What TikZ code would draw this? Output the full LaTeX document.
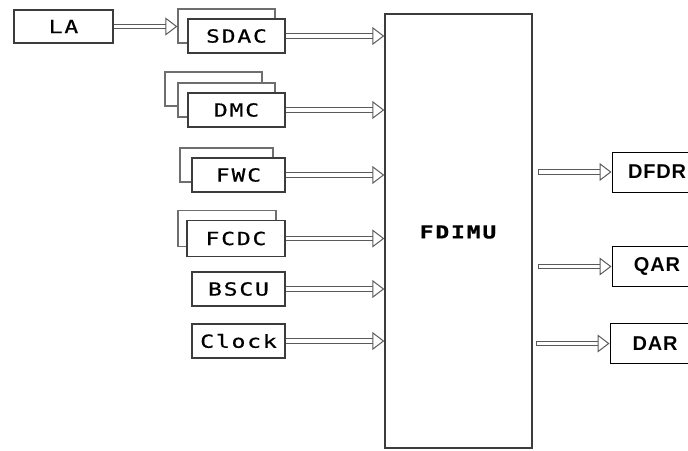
\documentclass[tikz,border=0pt]{standalone}
\usepackage{fontspec}
\usepackage{tikz}
\usetikzlibrary{arrows.meta,positioning,shadows}
\definecolor{boxgray}{HTML}{3C3C3C}
\definecolor{shadegray}{HTML}{6E6E6E}
\definecolor{pipegray}{HTML}{5A5A5A}
\newfontfamily\unitfont[FakeStretch=1.28,LetterSpace=10,FakeBold=0.6]{DejaVu Sans Mono}
\newfontfamily\sinkfont[LetterSpace=4]{Liberation Sans Bold}

\begin{document}
\begin{tikzpicture}[x=1pt,y=-1pt,
    unit/.style={draw=boxgray,fill=white,line width=1.3pt,inner sep=0pt,
      minimum width=97pt,minimum height=34pt,font=\unitfont\fontsize{18}{18}\selectfont},
    sink/.style={draw=black,fill=white,line width=1pt,inner sep=0pt,
      minimum width=90pt,minimum height=40pt,font=\sinkfont\fontsize{20}{20}\selectfont},
    backcopy/.style={copy shadow={shadow xshift=#1,shadow yshift=10pt,draw=shadegray,fill=white}},
    pipe/.style={draw=pipegray,line width=1pt,double=white,double distance=3.5pt,
      -{Triangle[open,length=12pt,width=18pt,line width=1pt]}},
    tailpipe/.style={pipe,{Bar[width=5.5pt,line width=1pt]}-{Triangle[open,length=12pt,width=18pt,line width=1pt]}}]
    \useasboundingbox (0,0) rectangle (688,450);
    % processor
    \node[draw=boxgray,line width=1.4pt,minimum width=147pt,minimum height=434pt,inner sep=0pt] (fdimu) at (458.5,231) {};
    \node[font=\unitfont\bfseries\fontsize{18}{18}\selectfont] (fdimulabel) at (458,232) {FDIMU};
    % sources
    \node[unit,minimum width=99pt,minimum height=33pt] (la) at (63.5,26.5) {LA};
    \node[unit,backcopy=-10pt] (sdac) at (236.5,36) {SDAC};
    \node[unit,copy shadow={shadow xshift=-23pt,shadow yshift=21pt,draw=shadegray,fill=white},backcopy=-10pt] (dmc) at (236.5,110) {DMC};
    \node[unit,minimum width=93pt,backcopy=-12pt] (fwc) at (238.5,175) {FWC};
    \node[unit,minimum width=98pt,minimum height=36pt,backcopy=-9pt] (fcdc) at (236,238.5) {FCDC};
    \node[unit,minimum width=93pt] (bscu) at (238.5,289) {BSCU};
    \node[unit,minimum width=93pt] (clock) at (238.5,341) {Clock};
    % recorders
    \node[sink] (dfdr) at (657,172) {DFDR};
    \node[sink] (qar) at (657,266.5) {QAR};
    \node[sink] (dar) at (655,343.5) {DAR};
    \coordinate (dfdr tail) at (538,172);
    \coordinate (qar tail) at (538,266.5);
    \coordinate (dar tail) at (536,343.5);
    % links
    \draw[pipe] (la.east) -- ([xshift=-10pt]sdac.west |- la.east);
    \foreach \src in {sdac,dmc,fwc,fcdc,bscu,clock}
      \draw[pipe] (\src.east) -- (fdimu.west |- \src.east);
    \foreach \dst in {dfdr,qar,dar}
      \draw[tailpipe] (\dst\space tail) -- (\dst.west);
\end{tikzpicture}
\end{document}
